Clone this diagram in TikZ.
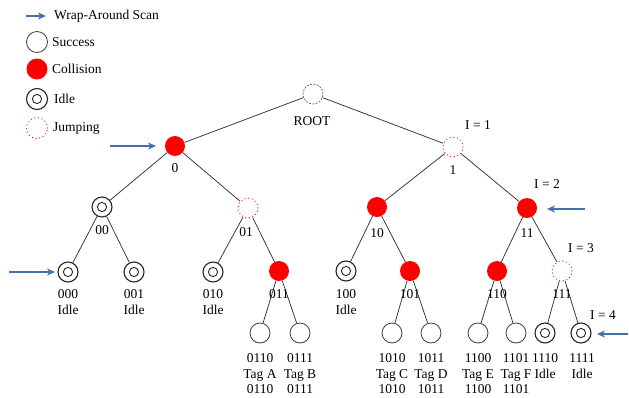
\documentclass[tikz,border=0pt]{standalone}
\usepackage{fontspec}
\setmainfont{Liberation Serif}
\usetikzlibrary{arrows.meta}
\definecolor{scanblue}{RGB}{70,112,170}
\definecolor{edgegray}{RGB}{50,50,50}
\begin{document}
\begin{tikzpicture}[x=1pt,y=-1pt,
  font=\fontsize{13.5}{15.5}\selectfont,
  base/.style={circle, minimum size=20pt, inner sep=0pt},
  coll/.style={base, fill=red},
  succ/.style={base, draw=black!75, line width=0.8pt},
  idle/.style={base, draw=black!85, line width=1.1pt,
    path picture={\draw[black!85, line width=0.9pt] (path picture bounding box.center) circle (4.6pt);}},
  jump/.style={base, draw=red, line width=1.2pt, line cap=round, dash pattern=on 0.1pt off 3.6pt},
  rootnode/.style={base, draw=black!60, line width=0.7pt, dash pattern=on 2pt off 1.3pt},
  lbl/.style={inner sep=0pt, align=center},
  edge/.style={draw=edgegray, line width=0.75pt},
  scan/.style={draw=scanblue, line width=1.2pt, -{Stealth[length=8pt, width=7pt, inset=2.5pt]}}
]
\useasboundingbox (0,0) rectangle (629,397);

% legend
\coordinate (lgA) at (26,16);
\coordinate (lgB) at (46,16);
\draw[scan] (lgA) -- (lgB);
\node[lbl, anchor=west] (lgt1) at (54,16) {Wrap-Around Scan};
\node[succ, minimum size=21pt] (lgs) at (37,42) {};
\node[lbl, anchor=west] (lgt2) at (52,42) {Success};
\node[coll, minimum size=21pt] (lgc) at (37,69) {};
\node[lbl, anchor=west] (lgt3) at (52,69) {Collision};
\node[idle, minimum size=21pt] (lgi) at (37,99) {};
\node[lbl, anchor=west] (lgt4) at (54,99) {Idle};
\node[jump, minimum size=21pt] (lgj) at (37,128) {};
\node[lbl, anchor=west] (lgt5) at (53,128) {Jumping};

% tree nodes
\node[rootnode] (root) at (313,94) {};
\node[coll] (n0) at (175,146) {};
\node[jump] (n1) at (453,147) {};
\node[idle] (n00) at (102,207) {};
\node[jump] (n01) at (248,208) {};
\node[coll] (n10) at (377,207) {};
\node[coll] (n11) at (527,208) {};
\node[idle] (n000) at (68,272) {};
\node[idle] (n001) at (134,272) {};
\node[idle] (n010) at (213,272) {};
\node[coll] (n011) at (279,271) {};
\node[idle] (n100) at (346,271) {};
\node[coll] (n101) at (410,271) {};
\node[coll] (n110) at (497,271) {};
\node[jump] (n111) at (562,271) {};
\node[succ] (n0110) at (260,333) {};
\node[succ] (n0111) at (300,333) {};
\node[succ] (n1010) at (392,333) {};
\node[succ] (n1011) at (431,333) {};
\node[succ] (n1100) at (478,333) {};
\node[succ] (n1101) at (516,333) {};
\node[idle] (n1110) at (545,333) {};
\node[idle] (n1111) at (581,333) {};

% branches
\foreach \p/\c in {root/n0, root/n1, n0/n00, n0/n01, n1/n10, n1/n11,
  n00/n000, n00/n001, n01/n010, n01/n011, n10/n100, n10/n101, n11/n110, n11/n111,
  n011/n0110, n011/n0111, n101/n1010, n101/n1011, n110/n1100, n110/n1101,
  n111/n1110, n111/n1111}
  \draw[edge] (\p) -- (\c);

% node labels
\node[lbl] (lroot) at (312,121) {ROOT};
\node[lbl] (l0) at (175,168) {0};
\node[lbl] (l1) at (453,170) {1};
\node[lbl] (l00) at (102,230) {00};
\node[lbl] (l01) at (246,232) {01};
\node[lbl] (l10) at (377,233) {10};
\node[lbl] (l11) at (527,233) {11};
\node[lbl] (l000) at (68,302) {000\\Idle};
\node[lbl] (l001) at (134,302) {001\\Idle};
\node[lbl] (l010) at (213,302) {010\\Idle};
\node[lbl] (l011) at (279,294) {011};
\node[lbl] (l100) at (346,302) {100\\Idle};
\node[lbl] (l101) at (410,294) {101};
\node[lbl] (l110) at (497,294) {110};
\node[lbl] (l111) at (562,294) {111};
\node[lbl] (l0110) at (260,374) {0110\\Tag A\\0110};
\node[lbl] (l0111) at (300,374) {0111\\Tag B\\0111};
\node[lbl] (l1010) at (392,374) {1010\\Tag C\\1010};
\node[lbl] (l1011) at (431,374) {1011\\Tag D\\1011};
\node[lbl] (l1100) at (478,374) {1100\\Tag E\\1100};
\node[lbl] (l1101) at (516,374) {1101\\Tag F\\1101};
\node[lbl] (l1110) at (545,366) {1110\\Idle};
\node[lbl] (l1111) at (582,366) {1111\\Idle};

% jump counters
\node[lbl] (i1) at (478,125) {I = 1};
\node[lbl] (i2) at (547,184) {I = 2};
\node[lbl] (i3) at (581,248) {I = 3};
\node[lbl] (i4) at (603,315) {I = 4};

% wrap-around scan arrows
\coordinate (s0) at (110,146);
\coordinate (e0) at (156,146);
\coordinate (s11) at (585,209);
\coordinate (e11) at (547,209);
\coordinate (s000) at (9,272);
\coordinate (e000) at (55,272);
\coordinate (s1111) at (628,334);
\coordinate (e1111) at (597,334);
\draw[scan] (s0) -- (e0);
\draw[scan] (s11) -- (e11);
\draw[scan] (s000) -- (e000);
\draw[scan] (s1111) -- (e1111);
\end{tikzpicture}
\end{document}
